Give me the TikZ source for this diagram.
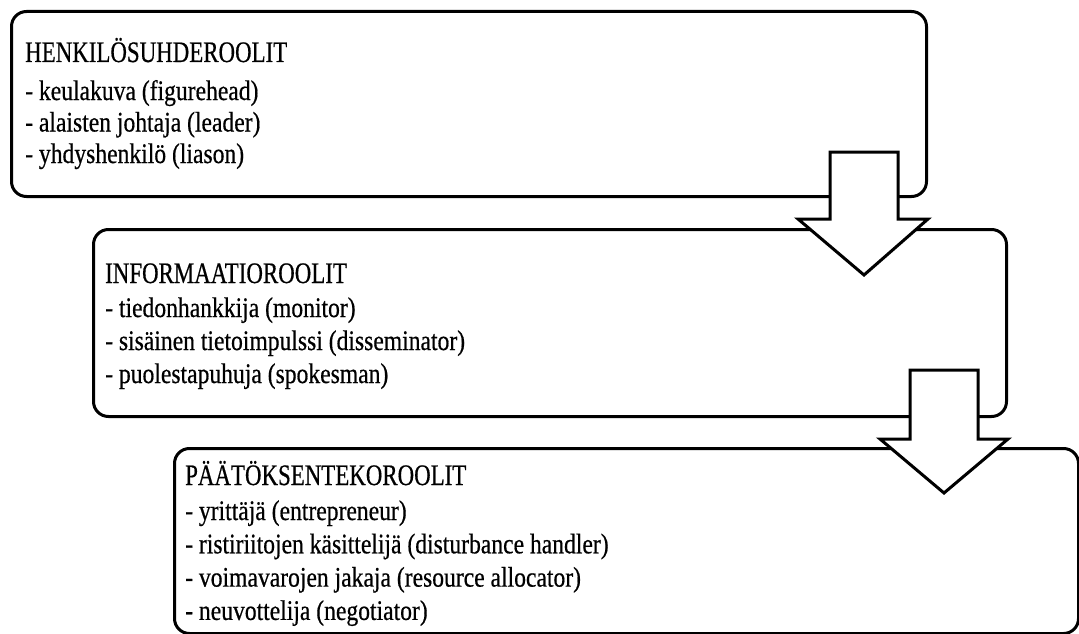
\documentclass[tikz,border=0pt]{standalone}
\usepackage{fontspec}
\setmainfont{Liberation Serif}[FakeBold=0.6]
\usepackage{tikz}
\usetikzlibrary{positioning}

\tikzset{
	rolebox/.style={draw, line width=3pt, rounded corners=15pt, fill=white, inner sep=0pt, anchor=north west},
	blockarrow/.style={draw, line width=3pt, fill=white, line join=miter},
	rolehead/.style={anchor=base west, inner sep=0pt, yscale=1.3, font=\fontsize{22.9}{28}\selectfont},
	roleitem/.style={anchor=base west, inner sep=0pt, yscale=1.2, font=\fontsize{23.6}{28}\selectfont}
}

\begin{document}
\begin{tikzpicture}[x=1pt, y=1pt]
	\useasboundingbox (0,0) rectangle (1079,-634);
	% the three boxes
	\node[rolebox, minimum width=915pt, minimum height=185pt] (b1) at (10,-10) {};
	\node[rolebox, minimum width=913pt, minimum height=187pt] (b2) at (92,-228) {};
	\node[rolebox, minimum width=904pt, minimum height=185pt] (b3) at (173,-447) {};
	% block arrows
	\coordinate (a1) at (864,-152);
	\coordinate (a2) at (944,-370);
	\draw[blockarrow] (a1) ++(-34,0) -- ++(0,-67) -- ++(-32,0) -- ++(66,-56)
		-- ++(64,56) -- ++(-30,0) -- ++(0,67) -- cycle;
	\draw[blockarrow] (a2) ++(-34,0) -- ++(0,-69) -- ++(-30,0) -- ++(64,-54)
		-- ++(64,54) -- ++(-30,0) -- ++(0,69) -- cycle;
	% texts
	\node[rolehead] (h1) at (25,-62) {HENKILÖSUHDEROOLIT};
	\foreach \txt [count=\i] in {{- keulakuva (figurehead)}, {- alaisten johtaja (leader)}, {- yhdyshenkilö (liason)}}
		\node[roleitem] (h1i\i) at (25,{-100-31.5*(\i-1)}) {\txt};
	\node[rolehead] (h2) at (105,-283) {INFORMAATIOROOLIT};
	\foreach \txt [count=\i] in {{- tiedonhankkija (monitor)}, {- sisäinen tietoimpulssi (disseminator)}, {- puolestapuhuja (spokesman)}}
		\node[roleitem] (h2i\i) at (105,{-317-33*(\i-1)}) {\txt};
	\node[rolehead] (h3) at (185,-485) {PÄÄTÖKSENTEKOROOLIT};
	\foreach \txt [count=\i] in {{- yrittäjä (entrepreneur)}, {- ristiriitojen käsittelijä (disturbance handler)}, {- voimavarojen jakaja (resource allocator)}, {- neuvottelija (negotiator)}}
		\node[roleitem] (h3i\i) at (185,{-520-33.3*(\i-1)}) {\txt};
\end{tikzpicture}
\end{document}
